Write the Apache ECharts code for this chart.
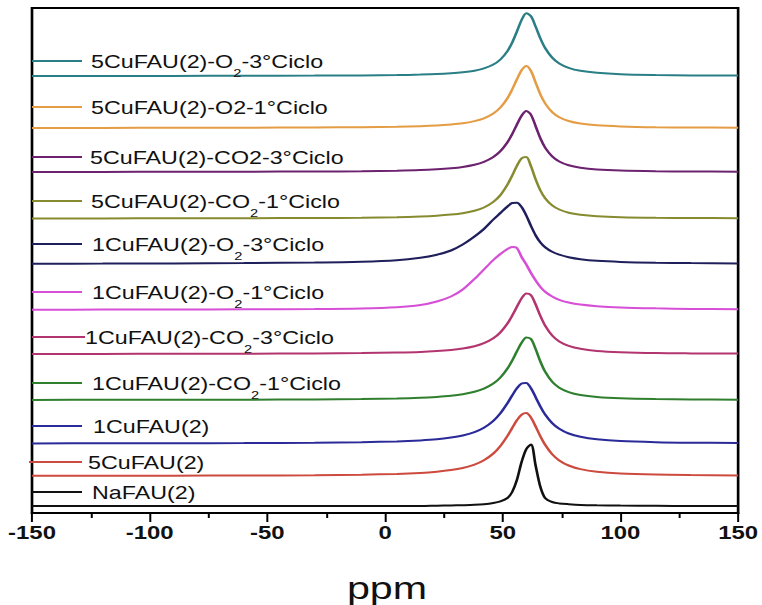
<!DOCTYPE html>
<html>
<head>
<meta charset="utf-8">
<script src="https://cdn.jsdelivr.net/npm/echarts@6/dist/echarts.min.js"></script>
<style>
html,body{margin:0;padding:0;background:#fff;overflow:hidden;}
#wrap{width:573px;height:605px;transform:scaleX(1.33);transform-origin:0 0;}
</style>
</head>
<body>
<div id="wrap"></div>
<script>
// chemical shift grid (ppm)
const ppm = [-150, -120, -90, -60, -30, -10, 5, 15, 22, 28, 33, 38, 42, 46, 49, 52, 54, 56, 58, 60, 62, 64, 66, 68, 71, 74, 78, 83, 90, 100, 115, 130, 150];

// series names (top to bottom), {s|2} marks a subscript 2
const names = [
  '5CuFAU(2)-O{s|2}-3°Ciclo',
  '5CuFAU(2)-O2-1°Ciclo',
  '5CuFAU(2)-CO2-3°Ciclo',
  '5CuFAU(2)-CO{s|2}-1°Ciclo',
  '1CuFAU(2)-O{s|2}-3°Ciclo',
  '1CuFAU(2)-O{s|2}-1°Ciclo',
  '1CuFAU(2)-CO{s|2}-3°Ciclo',
  '1CuFAU(2)-CO{s|2}-1°Ciclo',
  '1CuFAU(2)',
  '5CuFAU(2)',
  'NaFAU(2)'
];

// vertical stacking offsets (arbitrary intensity units)
const offsets = [437, 385, 341, 294.5, 249, 203, 159, 113, 69.5, 37, 7];

// intensities on the ppm grid
const s5O2c3  = [0.1,0.1,0.1,0.2,0.4,0.6,0.9,1.4,1.9,2.7,3.7, 5.3,7.6,11.5,16.5,24.9,33.4,44.4,56.0,62.8,59.7, 49.2,37.5,28.0,18.4,12.6,8.2,5.2,3.2,1.8,1.0, 0.6,0.4];
const s5O2c1  = [0.1,0.1,0.2,0.3,0.5,0.8,1.2,1.8,2.5,3.5,4.7, 6.9,9.7,14.5,20.5,29.8,38.5,48.6,57.8,62.0,57.0, 45.2,33.5,24.6,15.9,10.8,7.0,4.5,2.7,1.6,0.8, 0.5,0.3];
const s5CO2c3 = [0.1,0.1,0.2,0.3,0.5,0.8,1.3,1.9,2.7,3.7,5.0, 7.2,10.1,15.0,20.8,29.8,37.9,47.4,56.2,60.9,57.2, 45.6,33.6,24.4,15.6,10.5,6.7,4.3,2.6,1.5,0.8, 0.5,0.3];
const s5CO2c1 = [0.1,0.1,0.2,0.3,0.5,0.8,1.3,2.0,2.8,3.9,5.3, 7.8,11.0,16.6,23.4,33.8,42.9,52.7,60.2,61.4,52.2, 39.0,28.0,20.3,13.1,9.0,5.8,3.8,2.3,1.3,0.7, 0.5,0.3];
const s1O2c3  = [0.3,0.4,0.6,0.9,1.5,2.3,3.8,6.3,9.3,13.5,19.5, 27.5,35.0,44.5,51.0,57.5,61.0,61.3,57.0,48.5,38.0, 28.5,21.5,16.8,12.2,9.3,6.8,4.8,3.2,2.1,1.3, 0.9,0.6];
const s1O2c1  = [0.3,0.4,0.5,0.7,1.0,1.6,2.8,5.0,8.5,13.5,20.5, 31.0,40.5,50.0,56.0,61.0,63.0,62.0,53.0,45.5,37.0, 29.5,23.0,18.3,13.5,10.2,7.5,5.4,3.8,2.6,1.7, 1.1,0.7];
const s1CO2c3 = [0.1,0.1,0.2,0.3,0.6,0.9,1.5,2.1,2.9,4.0,5.5, 7.8,10.9,15.8,21.7,30.5,38.3,47.2,55.6,60.6,58.8, 49.4,38.0,28.4,18.5,12.6,8.2,5.2,3.1,1.8,0.9, 0.6,0.4];
const s1CO2c1 = [0.1,0.2,0.2,0.3,0.6,1.0,1.5,2.2,3.1,4.2,5.7, 8.2,11.3,16.4,22.5,31.5,39.4,48.6,57.2,62.5,60.9, 50.7,38.4,28.3,18.2,12.3,7.9,5.0,3.0,1.7,0.9, 0.6,0.3];
const s1Cu    = [0.1,0.2,0.3,0.4,0.8,1.3,2.1,3.1,4.2,5.9,8.0, 11.4,15.7,22.6,30.2,40.3,48.0,55.2,60.0,60.6,55.2, 46.2,36.9,29.0,20.4,14.7,10.0,6.7,4.2,2.4,1.3, 0.8,0.5];
const s5Cu    = [0.2,0.2,0.3,0.5,0.8,1.3,2.1,3.1,4.3,5.9,8.0, 11.4,15.7,22.5,30.0,40.1,48.0,55.7,61.3,62.9,58.4, 49.4,39.6,31.2,21.7,15.6,10.5,6.9,4.3,2.5,1.4, 0.9,0.5];
const sNa     = [0,0,0,0,0,0,0,0,0.3,0.5,0.8, 1.2,1.8,3.0,4.6,8.0,14.0,26.0,44.0,57.0,61.5, 40.0,19.0,8.0,4.0,2.6,1.8,1.1,0.7,0.4,0.2, 0,0];

const spectra = [s5O2c3, s5O2c1, s5CO2c3, s5CO2c1, s1O2c3, s1O2c1, s1CO2c3, s1CO2c1, s1Cu, s5Cu, sNa];

// x tick labels
const xTicks = [-150, -100, -50, 0, 50, 100, 150];

// ---- styling / layout (not data) ----
const SX = 1.33;
const colors = ['#2a7e86', '#e49c45', '#6c226f', '#878b30', '#1f1f5c', '#d64fd6', '#b3356f', '#2f7f2f', '#2a2a98', '#cc4a3e', '#111111'];
const legendY = [62, 108, 158, 202, 245, 293, 338, 384, 427, 463, 493];
const legendTextX = [91, 91, 90, 91, 92, 92, 85, 92, 93, 88, 92];
const legendLineX = [[32, 82], [32, 82], [32, 82], [32, 82], [32, 82], [32, 82], [32, 85], [32, 82], [32, 82], [29, 82], [32, 82]];
const FONT = "'Liberation Sans', Arial, sans-serif";

const chart = echarts.init(document.getElementById('wrap'), null, {renderer: 'svg', width: 573, height: 605});

const series = spectra.map((vals, k) => ({
  name: names[k],
  type: 'line',
  data: ppm.map((x, i) => [x, offsets[k] + vals[i]]),
  showSymbol: false,
  smooth: 0.3,
  lineStyle: {color: colors[k], width: 2},
  itemStyle: {color: colors[k]},
  z: 3
}));

const graphic = [];
names.forEach((n, k) => {
  graphic.push({
    type: 'line',
    shape: {x1: legendLineX[k][0] / SX, y1: legendY[k] - 1, x2: legendLineX[k][1] / SX, y2: legendY[k] - 1},
    style: {stroke: colors[k], lineWidth: 2},
    z: 10
  });
  graphic.push({
    type: 'text',
    x: legendTextX[k] / SX,
    y: legendY[k] - 9,
    style: {
      text: '{m|' + n.replace('{s|2}', '}{s|2}{m|') + '}',
      verticalAlign: 'top',
      align: 'left',
      rich: {
        m: {fontFamily: FONT, fontSize: 17.5, lineHeight: 20, verticalAlign: 'top', fill: '#111'},
        s: {fontFamily: FONT, fontSize: 11, lineHeight: 26, verticalAlign: 'bottom', fill: '#111'}
      }
    },
    z: 10
  });
});
graphic.push({
  type: 'text',
  x: 387 / SX,
  y: 588,
  style: {text: 'ppm', fontFamily: FONT, fontSize: 31, fill: '#111', align: 'center', verticalAlign: 'middle'}
});

chart.setOption({
  animation: false,
  backgroundColor: '#fff',
  grid: {left: 32 / SX, right: 573 - 743 / SX, top: 8, bottom: 92, show: true, borderColor: '#000', borderWidth: 2, backgroundColor: 'transparent'},
  xAxis: {
    type: 'value', min: xTicks[0], max: xTicks[xTicks.length - 1], interval: 50,
    axisLine: {show: true, lineStyle: {color: '#000', width: 2}},
    axisTick: {show: true, inside: false, length: 9, lineStyle: {color: '#000', width: 1.5}},
    minorTick: {show: true, splitNumber: 2, length: 5, lineStyle: {color: '#000', width: 1.5}},
    splitLine: {show: false},
    axisLabel: {color: '#111', fontFamily: FONT, fontWeight: 'bold', fontSize: 18, margin: 11}
  },
  yAxis: {type: 'value', min: 0, max: 505, show: false},
  series: series,
  graphic: graphic
});
</script>
</body>
</html>
